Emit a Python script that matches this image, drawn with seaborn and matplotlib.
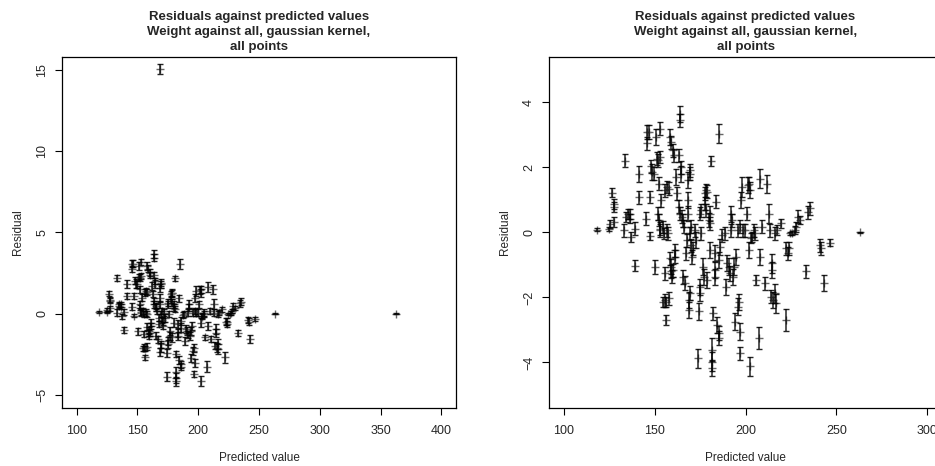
import numpy as np
import pandas as pd
import seaborn as sns
import matplotlib
matplotlib.use("Agg")
import matplotlib.pyplot as plt

# predicted values, residuals and half-widths of the error bars
pred = [118.5, 125.0, 125.3, 126.8, 127.5, 127.7, 127.5, 133.5, 133.2, 134.5,
        135.2, 136.7, 136.7, 137.2, 139.0, 139.4, 141.4, 141.3, 145.7, 145.8,
        146.8, 145.5, 147.3, 147.5, 148.0, 148.8, 149.5, 150.2, 151.0, 151.3,
        152.0, 152.8, 153.2, 152.4, 152.0, 152.4, 152.8, 153.2, 153.7, 154.6,
        155.4, 155.6, 154.6, 155.6, 156.5, 157.8, 156.5, 155.9, 156.8, 157.8,
        157.0, 157.6, 158.3, 158.8, 160.1, 160.5, 158.3, 159.2, 159.6, 160.1,
        159.2, 161.0, 161.4, 162.0, 162.5, 163.5, 163.8, 163.8, 163.5, 163.8,
        164.7, 164.7, 164.9, 165.6, 166.0, 165.6, 166.6, 167.5, 167.8, 168.4,
        168.6, 168.6, 169.3, 169.7, 169.3, 169.1, 169.0, 169.3, 170.2, 171.1,
        170.8, 169.9, 172.0, 173.0, 174.0, 174.4, 174.8, 175.2, 174.8, 175.4,
        175.8, 176.6, 177.2, 177.6, 178.1, 178.8, 177.8, 178.5, 178.8, 179.9,
        180.3, 180.7, 180.3, 181.2, 182.1, 181.8, 181.8, 181.8, 183.1, 183.4,
        183.1, 184.0, 184.3, 185.5, 185.5, 185.3, 185.5, 186.2, 187.3, 188.6,
        189.1, 189.8, 190.9, 191.3, 191.9, 192.2, 192.8, 193.1, 193.7, 194.1,
        195.0, 196.0, 196.4, 196.8, 197.1, 196.0, 197.1, 197.6, 198.2, 198.6,
        199.5, 200.8, 201.4, 201.9, 202.3, 201.9, 202.6, 202.8, 203.3, 204.5,
        205.0, 206.0, 207.3, 207.8, 208.2, 209.3, 210.6, 211.8, 212.8, 213.3,
        214.6, 214.8, 214.2, 215.1, 216.0, 216.6, 216.0, 217.3, 219.7, 222.1,
        222.5, 223.4, 224.0, 224.7, 225.8, 227.1, 228.0, 228.9, 230.2, 233.1,
        234.1, 235.3, 240.8, 241.4, 243.0, 246.7, 262.8, 168.6, 363.0]

resid = [0.09, 0.10, 0.25, 1.23, 0.79, 0.87, 0.33, 2.20, 0.07, 0.48,
         0.58, 0.58, 0.43, -0.15, 0.12, -1.02, 1.81, 1.09, 2.75, 3.09,
         3.09, 0.43, 1.09, -0.11, 2.04, 1.86, 1.81, -1.07, 2.93, 2.27,
         2.22, 2.32, 3.19, 1.50, 0.58, 0.38, 0.12, 0.07, 0.99, 0.17,
         -0.03, -1.26, -2.13, -2.08, -2.13, -2.02, -2.69, 1.30, 1.40, 1.35,
         0.07, -0.03, 2.93, 2.78, 2.53, 2.37, -0.80, -1.05, -1.36, -1.16,
         -1.20, -0.54, -0.75, 1.71, 1.20, 2.37, 3.65, 3.45, 0.79, 0.58,
         2.01, 1.81, 0.48, 0.38, 0.17, -1.36, -1.56, -0.64, -0.24, 1.61,
         0.99, 0.58, 1.91, 1.81, -1.87, -2.08, -2.38, -0.03, -0.39, -0.49,
         -0.75, 0.17, 0.07, -0.24, -3.87, -2.43, -1.87, -1.67, 0.58, 0.69,
         -0.03, -1.05, -1.36, 1.20, 1.30, 1.25, 0.89, 0.69, -1.46, 0.38,
         0.58, 0.28, -0.54, 2.19, -2.48, -3.61, -3.97, -4.17, -0.64, -1.16,
         -1.36, 0.94, -2.84, -3.10, -3.25, 3.04, -0.85, -0.44, -0.08, -0.03,
         -1.67, -0.95, -1.05, -1.26, 0.07, 0.58, 0.38, -1.36, -1.05, -2.74,
         -0.75, -2.28, -2.13, -3.71, -3.05, 0.07, 0.17, 0.99, 1.40, 0.07,
         0.07, 0.58, 1.45, 1.50, 1.30, -0.54, -4.12, -0.18, -0.13, 0.07,
         -0.03, -1.46, -3.25, 1.66, -0.75, 0.17, -1.56, 1.50, 0.58, 0.07,
         -0.95, -1.16, -1.97, -2.08, -1.87, -2.18, -0.03, 0.07, 0.28, -2.69,
         -0.49, -0.64, -0.49, -0.03, -0.01, 0.07, 0.17, 0.48, 0.38, -1.20,
         0.63, 0.74, -0.39, -0.49, -1.56, -0.31, 0.00, 15.05, 0.00]

err = [0.05, 0.06, 0.12, 0.15, 0.15, 0.15, 0.15, 0.2, 0.2, 0.15,
       0.15, 0.15, 0.15, 0.15, 0.2, 0.18, 0.25, 0.2, 0.2, 0.22,
       0.22, 0.2, 0.18, 0.12, 0.2, 0.25, 0.2, 0.22, 0.25, 0.2,
       0.2, 0.18, 0.2, 0.2, 0.2, 0.18, 0.2, 0.2, 0.2, 0.18,
       0.18, 0.2, 0.15, 0.2, 0.15, 0.2, 0.15, 0.2, 0.18, 0.2,
       0.2, 0.2, 0.25, 0.2, 0.2, 0.2, 0.2, 0.22, 0.2, 0.2,
       0.2, 0.2, 0.2, 0.25, 0.2, 0.2, 0.25, 0.2, 0.2, 0.2,
       0.2, 0.25, 0.2, 0.2, 0.2, 0.22, 0.22, 0.2, 0.2, 0.25,
       0.25, 0.22, 0.2, 0.2, 0.22, 0.25, 0.25, 0.2, 0.2, 0.2,
       0.22, 0.2, 0.2, 0.25, 0.3, 0.25, 0.25, 0.25, 0.2, 0.2,
       0.2, 0.25, 0.25, 0.2, 0.2, 0.2, 0.2, 0.2, 0.25, 0.22,
       0.22, 0.2, 0.25, 0.15, 0.2, 0.35, 0.3, 0.25, 0.25, 0.25,
       0.25, 0.2, 0.25, 0.22, 0.22, 0.3, 0.25, 0.25, 0.2, 0.2,
       0.25, 0.25, 0.25, 0.22, 0.2, 0.25, 0.2, 0.25, 0.25, 0.25,
       0.25, 0.25, 0.25, 0.2, 0.25, 0.2, 0.2, 0.25, 0.3, 0.2,
       0.2, 0.2, 0.25, 0.2, 0.25, 0.25, 0.3, 0.15, 0.15, 0.2,
       0.2, 0.15, 0.35, 0.3, 0.25, 0.2, 0.2, 0.28, 0.3, 0.2,
       0.3, 0.25, 0.2, 0.25, 0.3, 0.3, 0.2, 0.15, 0.15, 0.35,
       0.2, 0.2, 0.2, 0.06, 0.06, 0.12, 0.15, 0.2, 0.12, 0.2,
       0.2, 0.2, 0.2, 0.2, 0.25, 0.12, 0.02, 0.3, 0.02]

assert len(pred) == len(resid) == len(err)

title = "Residuals against predicted values\nWeight against all, gaussian kernel,\nall points"
left_xticks = [100, 150, 200, 250, 300, 350, 400]
left_yticks = [-5, 0, 5, 10, 15]
right_xticks = [100, 150, 200, 250, 300]
right_yticks = [-4, -2, 0, 2, 4]

df = pd.DataFrame({"pred": pred, "resid": resid, "err": err})

sns.set_style("white")
plt.rcParams['font.family'] = ['Liberation Sans', 'DejaVu Sans']

fig = plt.figure(figsize=(9.35, 4.66), dpi=100)
ax1 = fig.add_axes([0.0663, 0.1245, 0.4214, 0.7532])
ax2 = fig.add_axes([0.5872, 0.1245, 0.4203, 0.7532])


def draw_panel(ax, xlim, ylim, xticks, yticks):
    ax.errorbar(df["pred"], df["resid"], yerr=df["err"], fmt="none",
                ecolor=(0, 0, 0, 0.85), elinewidth=1.1, capsize=2.5, capthick=1.0)
    sns.scatterplot(data=df, x="pred", y="resid", marker="+", color="0.4",
                    s=30, linewidth=1.0, ax=ax, legend=False)
    ax.set_xlim(*xlim)
    ax.set_ylim(*ylim)
    ax.set_xticks(xticks)
    ax.set_yticks(yticks)
    ax.set_yticklabels([str(t) if t >= 0 else "\u2212" + str(-t) for t in yticks],
                       rotation=90, va="center")
    ax.tick_params(axis="both", direction="out", length=5, width=0.8,
                   labelsize=9, color="black", left=True, bottom=True)
    ax.tick_params(axis="x", pad=7)
    ax.tick_params(axis="y", pad=5)
    for sp in ax.spines.values():
        sp.set_color("black")
        sp.set_linewidth(0.9)
    ax.set_xlabel("Predicted value", fontsize=8.5, labelpad=11)
    ax.set_ylabel("Residual", fontsize=8.5, labelpad=9)
    ax.set_title(title, fontsize=9.5, fontweight="bold", linespacing=1.35, pad=5)


draw_panel(ax1, (88, 412), (-5.8, 15.8), left_xticks, left_yticks)
draw_panel(ax2, (92, 308), (-5.4, 5.4), right_xticks, right_yticks)

fig.savefig("out.png", dpi=100)
